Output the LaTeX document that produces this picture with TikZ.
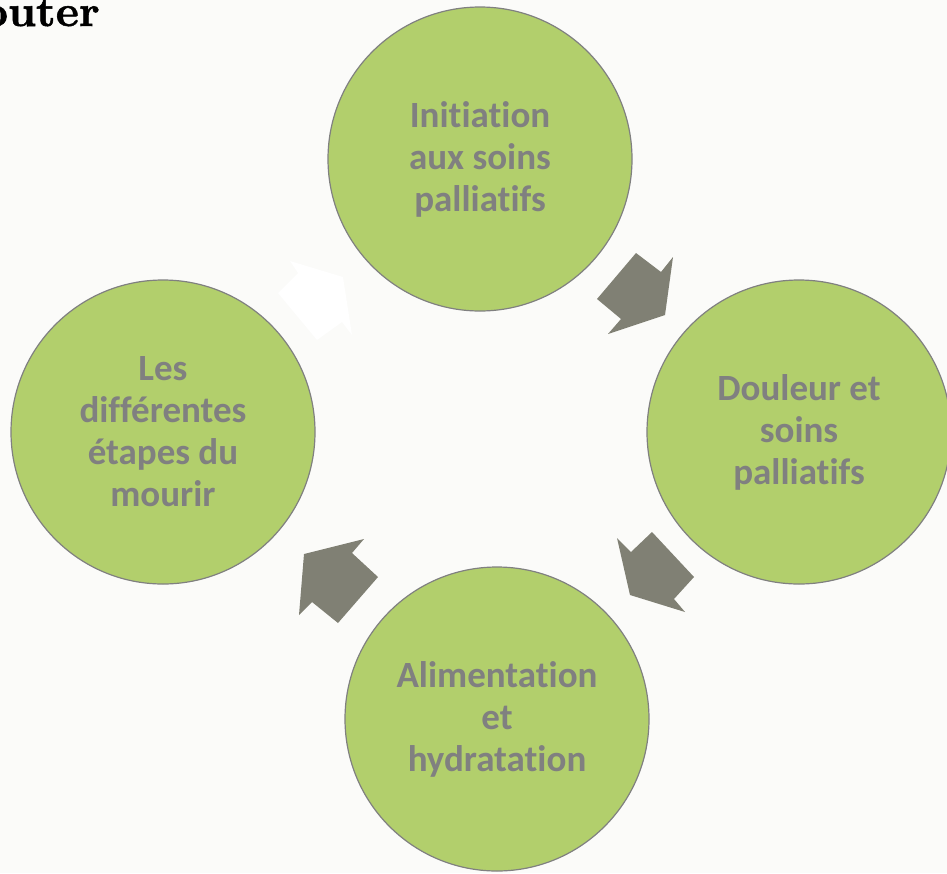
\documentclass[tikz,border=0pt]{standalone}
\usepackage{fontspec}
\newfontfamily\carlito[Ligatures=NoCommon]{Carlito}
\newfontfamily\titre{lmroman10-bold.otf}[FakeBold=1.2]
\definecolor{fond}{RGB}{251,251,249}
\definecolor{vert}{RGB}{178,207,108}
\definecolor{gristexte}{RGB}{128,128,128}
\definecolor{grisfleche}{RGB}{128,128,116}
\tikzset{
  theme/.style={circle, fill=vert, draw=gristexte, line width=1.2pt,
    minimum size=304pt, inner sep=0pt, align=center, text=gristexte,
    font=\carlito\bfseries\fontsize{37}{42}\selectfont},
  fleche/.style={fill=grisfleche},
  flecheblanche/.style={fill=white}
}
\begin{document}
\begin{tikzpicture}[x=1pt, y=-1pt]
\fill [fond] (0,0) rectangle (947,873);
\useasboundingbox (0,0) rectangle (947,873);
\node [anchor=base east, inner sep=0pt, font=\titre\fontsize{44}{50}\selectfont] (titre) at (100,26) {outer};

\node [theme] (initiation) at (480,159) {Initiation\\aux soins\\palliatifs};
\node [theme] (douleur) at (799,432) {Douleur et\\soins\\palliatifs};
\node [theme] (alimentation) at (497,719) {Alimentation\\et\\hydratation};
\node [theme] (etapes) at (163,432) {Les\\différentes\\étapes du\\mourir};

\fill [fleche] (673,257) -- (661,272) -- (636,253) -- (597,299) -- (621,319) -- (608,334) -- (665,315) -- cycle;
\fill [fleche] (617,538) -- (631,552) -- (652,532) -- (694,577) -- (674,599) -- (685,612) -- (630,595) -- cycle;
\fill [fleche] (364,539) -- (352,553) -- (378,577) -- (338,623) -- (312,602) -- (299,615) -- (304,554) -- cycle;
\fill [flecheblanche] (290,261) -- (298,273) -- (278,293) -- (317,340) -- (342,322) -- (352,335) -- (343,277) -- cycle;
\end{tikzpicture}
\end{document}
